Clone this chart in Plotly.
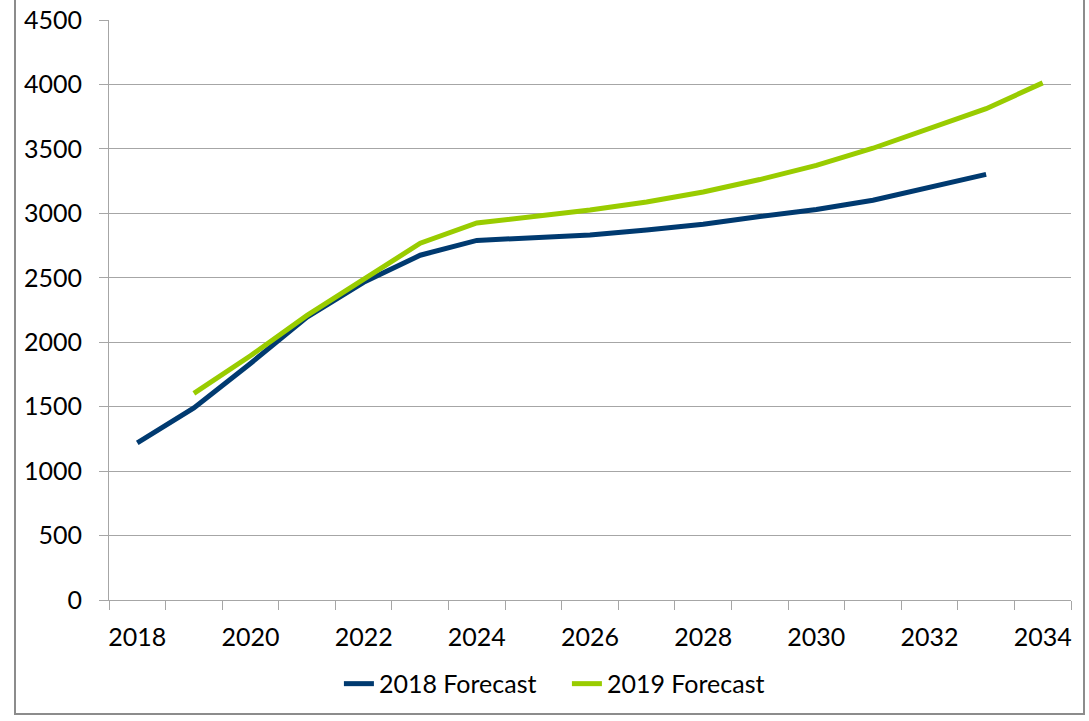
import plotly.graph_objects as go

years = list(range(2018, 2035))
years_2018 = list(range(2018, 2034))
forecast_2018 = [1220, 1490, 1835, 2195, 2465, 2675, 2790, 2812, 2832, 2870, 2915, 2975, 3030, 3102, 3198, 3302]
years_2019 = list(range(2019, 2035))
forecast_2019 = [1603, 1895, 2208, 2485, 2768, 2925, 2972, 3026, 3088, 3166, 3262, 3372, 3505, 3660, 3812, 4012]
x_tick_labels = [str(y) for y in years[::2]]
y_ticks = list(range(0, 5000, 500))

NAVY = "#003a70"
GREEN = "#99cc00"
GRID = "#a6a6a6"
FONT = "Lato"
FSIZE = 25

fig = go.Figure()
fig.add_trace(go.Scatter(x=years_2018, y=forecast_2018, mode="lines", name="2018 Forecast",
                         line=dict(color=NAVY, width=5)))
fig.add_trace(go.Scatter(x=years_2019, y=forecast_2019, mode="lines", name="2019 Forecast",
                         line=dict(color=GREEN, width=5)))

boundaries = [years[0] - 0.5 + i for i in range(len(years) + 1)]

fig.update_layout(
    width=1089, height=721,
    margin=dict(l=109, r=18, t=20, b=121, autoexpand=False),
    paper_bgcolor="white", plot_bgcolor="white",
    font=dict(family=FONT, size=FSIZE, color="#000000"),
    showlegend=True,
    legend=dict(orientation="h", x=0.476, xanchor="center", y=-0.105, yanchor="top",
                font=dict(family=FONT, size=FSIZE, color="#000000"), itemwidth=30,
                entrywidth=183, entrywidthmode="pixels",
                tracegroupgap=0, itemclick=False),
    xaxis=dict(
        range=[years[0] - 0.5, years[-1] + 0.5],
        tickmode="array", tickvals=years[::2], ticktext=x_tick_labels,
        ticks="", showgrid=False, zeroline=False,
        showline=True, linecolor=GRID, linewidth=1,
        ticklabelstandoff=15,
        minor=dict(tickmode="array", tickvals=boundaries, ticks="outside", ticklen=9,
                   tickcolor=GRID, tickwidth=1, showgrid=False),
    ),
    yaxis=dict(
        range=[0, 4500], tickmode="array", tickvals=y_ticks,
        ticks="outside", ticklen=9, tickcolor=GRID, tickwidth=1,
        showgrid=True, gridcolor=GRID, gridwidth=1, zeroline=False,
        showline=True, linecolor=GRID, linewidth=1,
        ticklabelstandoff=12,
    ),
    shapes=[dict(type="rect", xref="paper", yref="paper",
                 x0=(15 - 109) / 962, x1=(1084 - 109) / 962,
                 y0=(600 - 714) / 580, y1=1.2,
                 line=dict(color="#8c8c8c", width=2), fillcolor="rgba(0,0,0,0)", layer="below")],
)

fig.write_html("out.html")
